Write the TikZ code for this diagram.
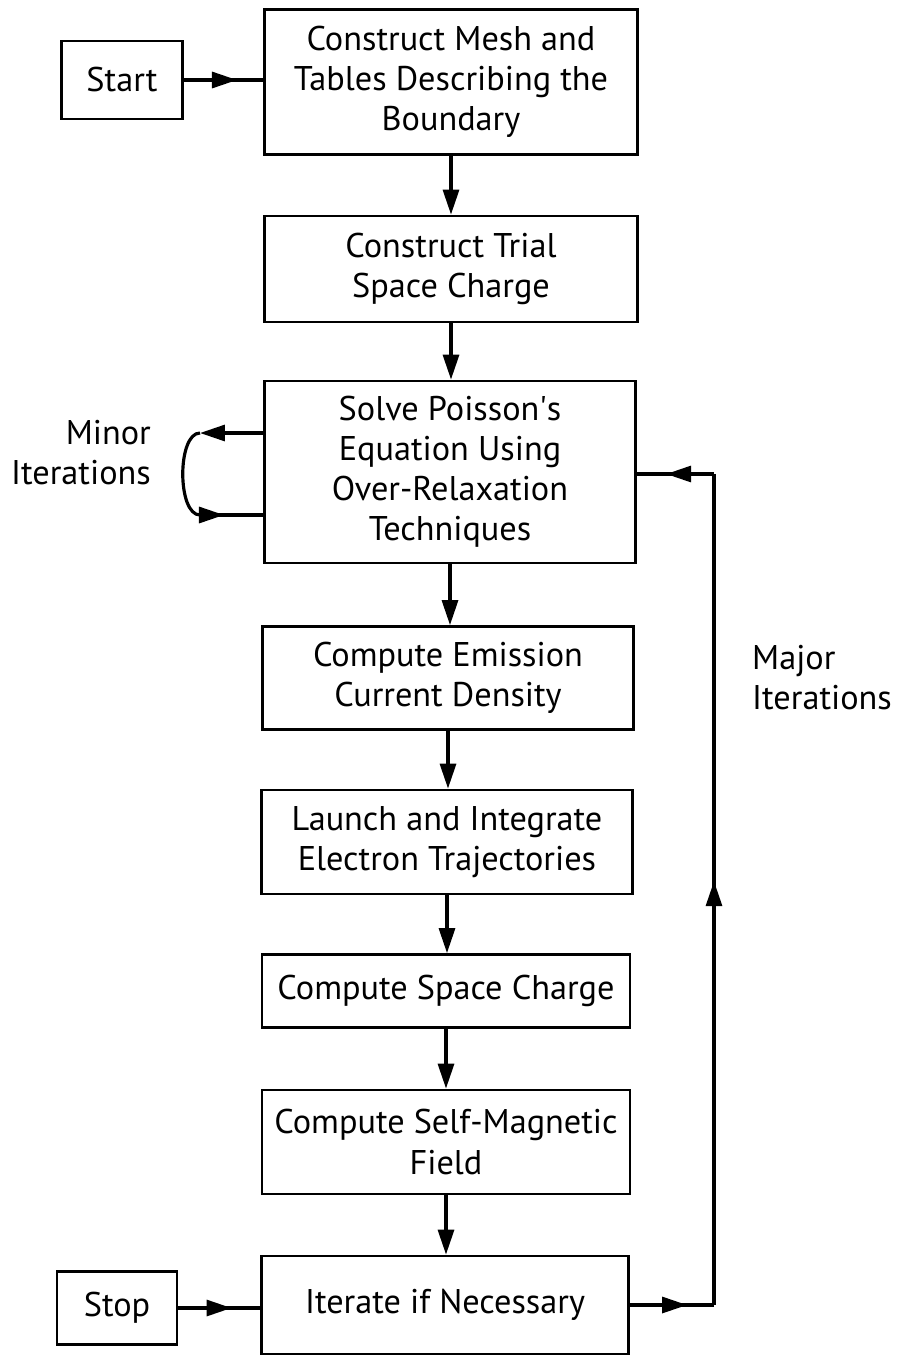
\documentclass[tikz,border=0pt]{standalone}
\usepackage{fontspec}
\setmainfont{PT Sans}
\usetikzlibrary{arrows.meta,decorations.markings}
\tikzset{
  box/.style={draw, line width=1.6pt, align=center, inner sep=0pt},
  conn/.style={line width=1.8pt},
  tip/.style={-{Triangle[length=0.5cm,width=0.32cm]}},
  midtip/.style={postaction={decorate},
    decoration={markings, mark=at position #1 with {\arrow{Triangle[length=0.5cm,width=0.32cm]}}}},
  lbl/.style={inner sep=0pt}
}
\begin{document}
\begin{tikzpicture}[x=0.02cm, y=-0.02cm, line join=miter,
    font=\fontsize{19.5}{22.8}\selectfont]
				\useasboundingbox (0,0) rectangle (898,1357);
				\node[box, minimum width=2.42cm, minimum height=1.56cm] (start) at (122,80) {Start};
				\node[box, minimum width=7.46cm, minimum height=2.9cm] (mesh) at (451,82) {Construct Mesh and\\Tables Describing the\\Boundary};
				\node[box, minimum width=7.46cm, minimum height=2.12cm] (trial) at (451,269) {Construct Trial\\Space Charge};
				\node[box, minimum width=7.42cm, minimum height=3.64cm] (poisson) at (450,472) {Solve Poisson\textquotesingle s\\Equation Using\\Over-Relaxation\\Techniques};
				\node[box, minimum width=7.42cm, minimum height=2.06cm] (emission) at (448,678) {Compute Emission\\Current Density};
				\node[box, minimum width=7.42cm, minimum height=2.08cm] (launch) at (447,842) {Launch and Integrate\\Electron Trajectories};
				\node[box, minimum width=7.36cm, minimum height=1.46cm] (charge) at (446,991) {Compute Space Charge};
				\node[box, minimum width=7.36cm, minimum height=2.08cm] (field) at (446,1142) {Compute Self-Magnetic\\Field};
				\node[box, minimum width=7.34cm, minimum height=1.96cm] (iterate) at (445,1305) {Iterate if Necessary};
				\node[box, minimum width=2.4cm, minimum height=1.46cm] (stop) at (117,1308) {Stop};
				\node[lbl, align=right] (minor) at (81,453) {Minor\\Iterations};
				\node[lbl, align=left] (major) at (822,678) {Major\\Iterations};
				\coordinate (mA) at (200,433);
				\coordinate (mB) at (200,515);
				\coordinate (jB) at (714,1305);
				\coordinate (jT) at (714,474);
				% main chain
				\draw [conn, midtip=0.67] (start.east) -- (mesh.west |- start.east);
				\draw [conn, tip] (mesh.south) -- (mesh.south |- trial.north);
				\draw [conn, tip] (trial.south) -- (trial.south |- poisson.north);
				\draw [conn, tip] (poisson.south) -- (poisson.south |- emission.north);
				\draw [conn, tip] (emission.south) -- (emission.south |- launch.north);
				\draw [conn, tip] (launch.south) -- (launch.south |- charge.north);
				\draw [conn, tip] (charge.south) -- (charge.south |- field.north);
				\draw [conn, tip] (field.south) -- (field.south |- iterate.north);
				\draw [conn, midtip=0.65] (stop.east) -- (iterate.west |- stop.east);
				% minor loop
				\draw [conn, tip] (poisson.west |- mA) -- (mA);
				\draw [conn] (mA) .. controls (177,433) and (177,515) .. (mB);
				\draw [conn, midtip=0.38] (mB) -- (poisson.west |- mB);
				% major loop
				\draw [conn, midtip=0.68] (iterate.east) -- (jB);
				\draw [conn, midtip=0.51] (jB) -- (jT);
				\draw [conn, midtip=0.62] (jT) -- (poisson.east |- jT);
			\end{tikzpicture}
\end{document}
